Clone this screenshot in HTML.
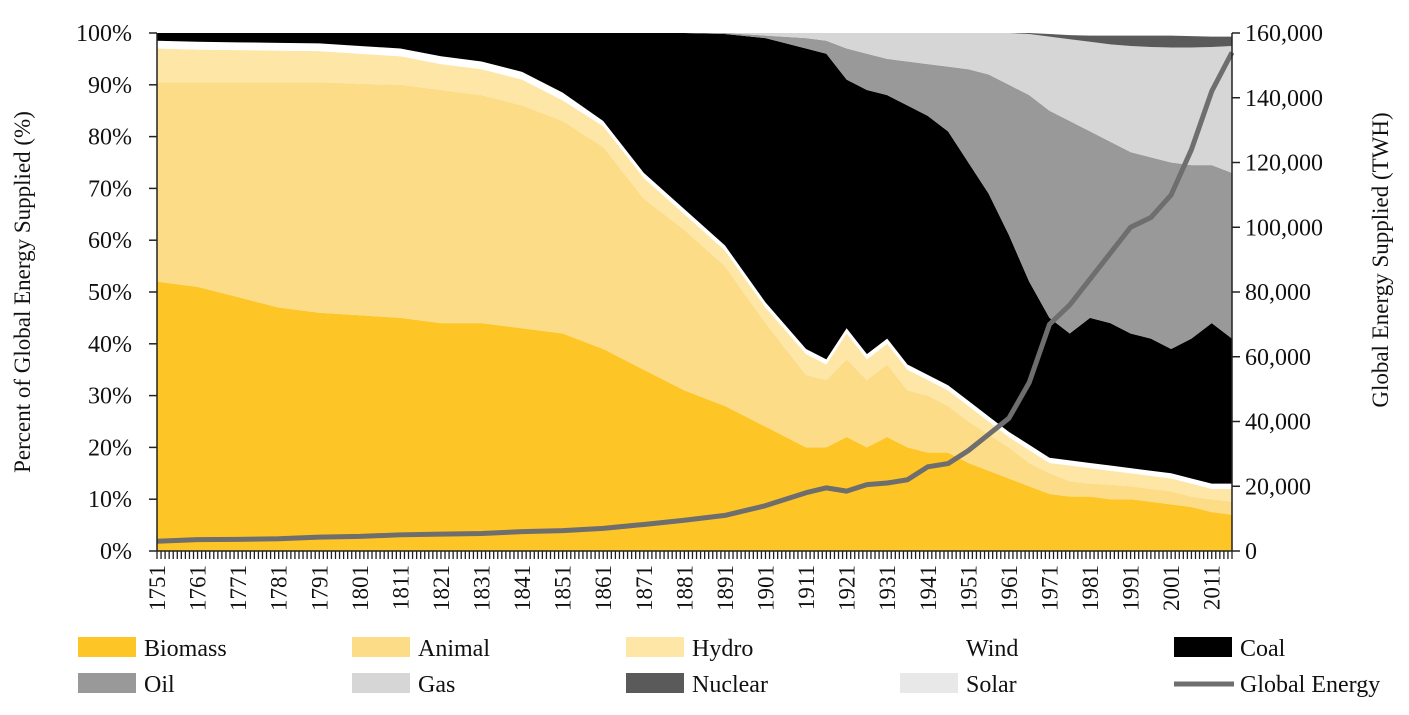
<!DOCTYPE html>
<html><head><meta charset="utf-8">
<style>
body{margin:0;background:#fff;}
svg text{font-family:"Liberation Serif",serif;fill:#111;}
</style></head>
<body>
<svg id="chart" width="1409" height="710" viewBox="0 0 1409 710" xmlns="http://www.w3.org/2000/svg">
<g id="areas"></g>
<g id="axes"></g>
<g id="legend"></g>
</svg>
<script>
const years=[1751,1761,1771,1781,1791,1801,1811,1821,1831,1841,1851,1861,1871,1881,1891,1901,1911,1916,1921,1926,1931,1936,1941,1946,1951,1956,1961,1966,1971,1976,1981,1986,1991,1996,2001,2006,2011,2016];
const biomass=[52,51,49,47,46,45.5,45,44,44,43,42,39,35,31,28,24,20,20,22,20,22,20,19,19,17,15.5,14,12.5,11,10.5,10.5,10,10,9.5,9,8.5,7.5,7];
const animal=[38.5,39.5,41.5,43.5,44.5,44.7,45,45,44,43,41,39,33,31,27,20,14,13,15,13,14,11,11,9,8,7,6,4.5,4,3,2.5,2.8,2.5,2.5,2.5,2,2.5,2.5];
const hydro=[6.5,6.3,6.2,6.1,6,5.8,5.5,5,5,5,4,4,4,3,3,3,4,3,5,4,4,4,3,3,3,2.5,2,2.5,2,3,3,2.7,2.5,2.5,2.5,2.5,2,2.5];
const wind=[1.5,1.5,1.5,1.5,1.5,1.5,1.5,1.5,1.5,1.5,1.5,1,1,1,1,1,1,1,1,1,1,1,1,1,1,1,1,1,1,1,1,1,1,1,1,1,1,1];
const coal=[1.5,1.7,1.8,1.9,2,2.5,3,4.5,5.5,7.5,11.5,17,27,34,40.8,51,58,59,48,51,47,50,50,49,46,43,38,31.5,27,24.5,28,27.5,26,25.5,24,27,31,28];
const oil=[0,0,0,0,0,0,0,0,0,0,0,0,0,0,0.2,0.5,2,2.5,6,7,7,8.5,10,12.5,18,23,29,36,40,41,36,35,35,35,36,33.5,30.5,32];
const gas=[0,0,0,0,0,0,0,0,0,0,0,0,0,0,0,0.5,1,1.5,3,4,5,5.5,6,6.5,7,8,10,11.8,14.3,15.8,17.3,18.8,20.5,21.3,22.2,22.7,22.8,24.5];
const nuclear=[0,0,0,0,0,0,0,0,0,0,0,0,0,0,0,0,0,0,0,0,0,0,0,0,0,0,0,0.2,0.5,0.8,1.2,1.7,2,2.2,2.3,2.2,2,1.8];
const energy=[3000,3500,3600,3800,4300,4500,5000,5200,5400,6000,6300,7000,8200,9500,11000,14000,18000,19500,18500,20500,21000,22000,26000,27000,31000,36000,41000,52000,70000,76000,84000,92000,100000,103000,110000,124000,142000,154000];
const tickYears=[1751,1761,1771,1781,1791,1801,1811,1821,1831,1841,1851,1861,1871,1881,1891,1901,1911,1921,1931,1941,1951,1961,1971,1981,1991,2001,2011];
const leftTicks=[0,10,20,30,40,50,60,70,80,90,100];
const rightTicks=[0,20000,40000,60000,80000,100000,120000,140000,160000];

const NS="http://www.w3.org/2000/svg";
const X0=157,X1=1232,Y0=551,Y1=33;
const xs=y=>X0+(y-1751)/(2016-1751)*(X1-X0);
const yp=p=>Y0-p/100*(Y0-Y1);
const ye=v=>Y0-v/160000*(Y0-Y1);
function mk(tag,attrs,parent){const e=document.createElementNS(NS,tag);for(const k in attrs)e.setAttribute(k,attrs[k]);parent.appendChild(e);return e;}
const areas=document.getElementById('areas'),axes=document.getElementById('axes'),legend=document.getElementById('legend');
const series=[["biomass",biomass,"#fdc526"],["animal",animal,"#fddc88"],["hydro",hydro,"#fee6a6"],["wind",wind,"#ffffff"],["coal",coal,"#000000"],["oil",oil,"#999999"],["gas",gas,"#d6d6d6"],["nuclear",nuclear,"#5a5a5a"]];
const base=years.map(()=>0);
series.forEach(([name,vals,col])=>{
  const top=base.map((b,i)=>b+vals[i]);
  let d="M"+years.map((y,i)=>xs(y)+","+yp(top[i])).join("L");
  for(let i=years.length-1;i>=0;i--)d+="L"+xs(years[i])+","+yp(base[i]);
  const p=mk('path',{d:d+"Z",fill:col},areas);
  
  
  top.forEach((t,i)=>base[i]=t);
});
const line=mk('polyline',{points:years.map((y,i)=>xs(y)+","+ye(energy[i])).join(" "),fill:"none",stroke:"#6e6e6e","stroke-width":5,"stroke-linejoin":"round"},areas);


mk('line',{x1:X0,y1:Y1,x2:X0,y2:Y0,stroke:"#222","stroke-width":1.5},axes);
mk('line',{x1:X1,y1:Y1,x2:X1,y2:Y0,stroke:"#222","stroke-width":1.5},axes);
mk('line',{x1:X0,y1:Y0,x2:X1,y2:Y0,stroke:"#222","stroke-width":1.5},axes);
leftTicks.forEach(t=>{
  mk('line',{x1:X0-8,y1:yp(t),x2:X0,y2:yp(t),stroke:"#222","stroke-width":1.5},axes);
  const tx=mk('text',{x:132,y:yp(t)+8,"text-anchor":"end","font-size":24},axes);tx.textContent=t+"%";
  
  
});
rightTicks.forEach(t=>{
  mk('line',{x1:X1,y1:ye(t),x2:X1+8,y2:ye(t),stroke:"#222","stroke-width":1.5},axes);
  const tx=mk('text',{x:1245,y:ye(t)+8,"font-size":24},axes);tx.textContent=t.toLocaleString('en-US');
  
  
});
for(let y=1751;y<=2016;y++)mk('line',{x1:xs(y),y1:Y0,x2:xs(y),y2:Y0+8,stroke:"#222","stroke-width":1.3},axes);
tickYears.forEach(y=>{
  const tx=mk('text',{transform:`translate(${xs(y)+8},565) rotate(-90)`,"text-anchor":"end","font-size":23},axes);tx.textContent=y;
  
  
});
const lt=mk('text',{transform:"translate(30,292) rotate(-90)","text-anchor":"middle","font-size":23},axes);lt.textContent="Percent of Global Energy Supplied (%)";


const rt=mk('text',{transform:"translate(1388,260) rotate(-90)","text-anchor":"middle","font-size":23},axes);rt.textContent="Global Energy Supplied (TWH)";


const legItems=[["Biomass","#fdc526"],["Animal","#fddc88"],["Hydro","#fee6a6"],["Wind","#ffffff"],["Coal","#000000"],["Oil","#999999"],["Gas","#d6d6d6"],["Nuclear","#5a5a5a"],["Solar","#e8e8e8"],["Global Energy","line"]];
legItems.forEach(([lab,col],i)=>{
  const cx=78+(i%5)*274,cy=i<5?648:684;
  const g=mk('g',{},legend);
  
  
  if(col==="line")mk('line',{x1:cx,y1:cy,x2:cx+60,y2:cy,stroke:"#6e6e6e","stroke-width":5},g);
  else mk('rect',{x:cx,y:cy-11,width:58,height:20,fill:col},g);
  const t=mk('text',{x:cx+66,y:cy+8,"font-size":24},g);t.textContent=lab;
});
</script>
</body></html>
